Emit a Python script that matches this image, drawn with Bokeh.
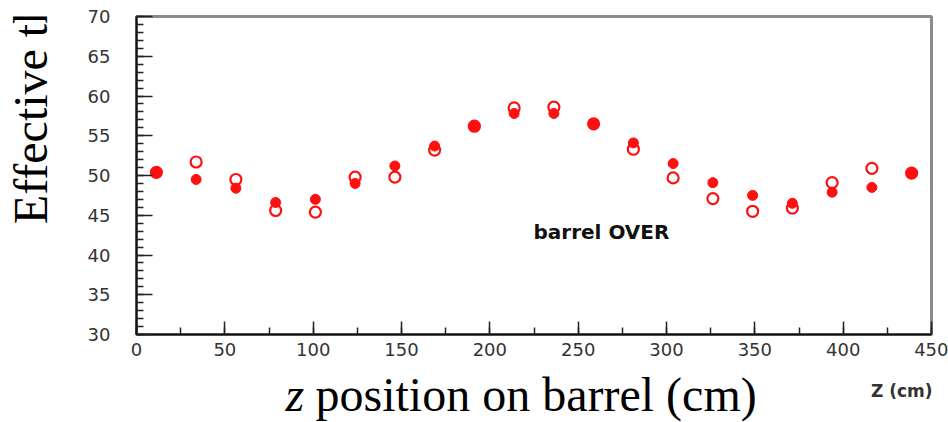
import math
from bokeh.plotting import figure
from bokeh.models import Label, SingleIntervalTicker, Range1d
from bokeh.layouts import column, row
from bokeh.core.properties import value
from bokeh.embed import file_html
from bokeh.resources import INLINE

# Data
z_cm = [11.25, 33.75, 56.25, 78.75, 101.25, 123.75, 146.25, 168.75, 191.25, 213.75,
        236.25, 258.75, 281.25, 303.75, 326.25, 348.75, 371.25, 393.75, 416.25, 438.75]
thr_filled = [50.4, 49.5, 48.4, 46.6, 47.0, 49.0, 51.2, 53.7, 56.2, 57.8,
              57.8, 56.5, 54.1, 51.5, 49.1, 47.5, 46.5, 47.9, 48.5, 50.3]
thr_open = [50.4, 51.7, 49.5, 45.6, 45.4, 49.8, 49.8, 53.2, 56.2, 58.5,
            58.6, 56.5, 53.3, 49.7, 47.1, 45.5, 45.9, 49.1, 50.9, 50.3]

x_major = 50
y_major = 5

TOP_H = 366
Y_W = 60

p = figure(width=948 - Y_W, height=TOP_H, output_backend="svg", toolbar_location=None,
           x_range=Range1d(0, 450), y_range=Range1d(30, 70),
           min_border_left=136 - Y_W, min_border_right=17, min_border_top=16,
           min_border_bottom=TOP_H - 334)
p.background_fill_color = "white"
p.border_fill_color = "white"
p.outline_line_color = "#8a8a8a"
p.outline_line_width = 3
p.xgrid.visible = False
p.ygrid.visible = False

p.xaxis.ticker = SingleIntervalTicker(interval=x_major, num_minor_ticks=2)
p.yaxis.ticker = SingleIntervalTicker(interval=y_major, num_minor_ticks=5)
for ax in (p.xaxis, p.yaxis):
    ax.axis_line_color = "#111111"
    ax.axis_line_width = 2
    ax.major_tick_line_color = "#222222"
    ax.minor_tick_line_color = "#222222"
    ax.major_tick_line_width = 1.5
    ax.minor_tick_line_width = 1.5
    ax.major_tick_out = 0
    ax.minor_tick_out = 0
    ax.major_label_text_font = "DejaVu Sans"
    ax.major_label_text_font_size = "18px"
    ax.major_label_text_color = "#333333"
p.yaxis.major_tick_in = 16
p.yaxis.minor_tick_in = 7
p.xaxis.major_tick_in = 13
p.xaxis.minor_tick_in = 7
p.yaxis.major_label_standoff = 26
p.xaxis.major_label_standoff = 8

p.scatter(z_cm, thr_open, marker="circle", size=11, fill_color=None,
          line_color="#ff1010", line_width=2.2)
p.scatter(z_cm, thr_filled, marker="circle", size=10, fill_color="#ff1010",
          line_color="#ff1010", line_width=1)

p.add_layout(Label(x=224.7, y=42.85, text="barrel OVER", text_font="DejaVu Sans",
                   text_font_style="bold", text_font_size="20px", text_color="#111111",
                   text_baseline="middle", text_align="left"))


def text_panel(w, h):
    f = figure(width=w, height=h, output_backend="svg", toolbar_location=None,
               x_range=Range1d(0, w), y_range=Range1d(0, h), min_border=0,
               x_axis_location=None, y_axis_location=None)
    f.xgrid.visible = False
    f.ygrid.visible = False
    f.outline_line_color = None
    f.background_fill_color = "white"
    f.border_fill_color = "white"
    return f


# y-axis title panel (left of the plot)
yf = text_panel(Y_W, TOP_H)
yf.text(x=[30], y=[TOP_H - 239], text=["Effective threshold (mV)"], angle=math.pi / 2,
        text_font=value("Liberation Serif"), text_font_size="48px", text_color="black",
        text_baseline="alphabetic", text_align="left")

# x-axis title panel (below the plot)
XH = 422 - TOP_H
xf = text_panel(948, XH)
xf.text(x=[285], y=[28], text=["z"], text_font=value("Liberation Serif"),
        text_font_style="italic", text_font_size="48px", text_color="black",
        text_baseline="alphabetic", text_align="left")
xf.text(x=[315], y=[28], text=["position on barrel (cm)"],
        text_font=value("Liberation Serif"), text_font_size="48px", text_color="black",
        text_baseline="alphabetic", text_align="left")
xf.text(x=[932], y=[XH - (390 - TOP_H)], text=["Z (cm)"], text_font=value("DejaVu Sans"),
        text_font_style="bold", text_font_size="17px", text_color="#333333",
        text_baseline="middle", text_align="right")

layout = column(row(yf, p, spacing=0), xf, spacing=0)

open("out.html", "w").write(file_html(layout, INLINE))
